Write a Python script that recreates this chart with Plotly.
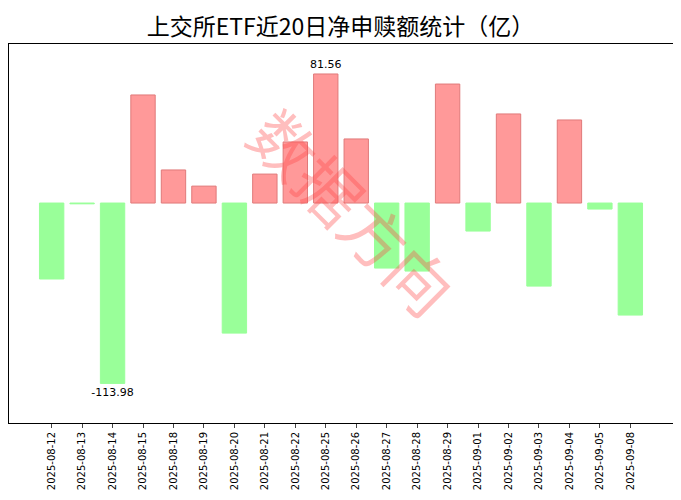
import plotly.graph_objects as go

dates = ["2025-08-12", "2025-08-13", "2025-08-14", "2025-08-15", "2025-08-18",
         "2025-08-19", "2025-08-20", "2025-08-21", "2025-08-22", "2025-08-25",
         "2025-08-26", "2025-08-27", "2025-08-28", "2025-08-29", "2025-09-01",
         "2025-09-02", "2025-09-03", "2025-09-04", "2025-09-05", "2025-09-08"]
values = [-48.0, -0.5, -113.98, 68.3, 20.9, 10.7, -82.2, 18.3, 38.6, 81.56,
          40.5, -41.1, -43.0, 75.2, -17.7, 56.3, -52.5, 52.5, -3.8, -70.8]

pos = list(range(len(dates)))
fill = ["#ff9999" if v > 0 else "#99ff99" for v in values]
edge = ["#e07a7a" if v > 0 else "#99ff99" for v in values]

imax = values.index(max(values))
imin = values.index(min(values))
labels = [""] * len(values)
labels[imax] = f"{values[imax]:.2f}"
labels[imin] = f"{values[imin]:.2f}"

fig = go.Figure(go.Bar(
    x=pos, y=values, width=0.8,
    marker=dict(color=fill, line=dict(color=edge, width=1)),
    text=labels, textposition="outside", cliponaxis=False, constraintext="none",
    textfont=dict(size=11, color="black", family="DejaVu Sans"),
))

fig.add_annotation(
    x=0.52, y=0.56, xref="paper", yref="paper",
    text="数据方向", textangle=45, showarrow=False,
    font=dict(size=64, color="rgba(255,70,70,0.35)", family="Noto Sans CJK SC"),
)

# page body has an 8px margin, so the figure is sized to fit inside it
fig.update_layout(
    width=665, height=484,
    margin=dict(l=1, r=0, t=36, b=69),
    paper_bgcolor="white", plot_bgcolor="white",
    title=dict(text="上交所ETF近20日净申赎额统计（亿）", x=0.5, y=0.978, xanchor="center",
               font=dict(size=23, color="black", family="Noto Sans CJK SC")),
    showlegend=False,
    font=dict(family="DejaVu Sans", color="black"),
)
fig.update_xaxes(range=[-1.4, 20.4], tickmode="array", tickvals=pos, ticktext=dates,
                 tickangle=-90, tickfont=dict(size=10), ticks="outside", ticklen=4,
                 showline=True, linecolor="black", mirror=True, showgrid=False,
                 automargin=False)
fig.update_yaxes(range=[-139, 100.5], showticklabels=False, showgrid=False,
                 zeroline=False, showline=True, linecolor="black", mirror=True,
                 automargin=False)

fig.write_html("out.html")
